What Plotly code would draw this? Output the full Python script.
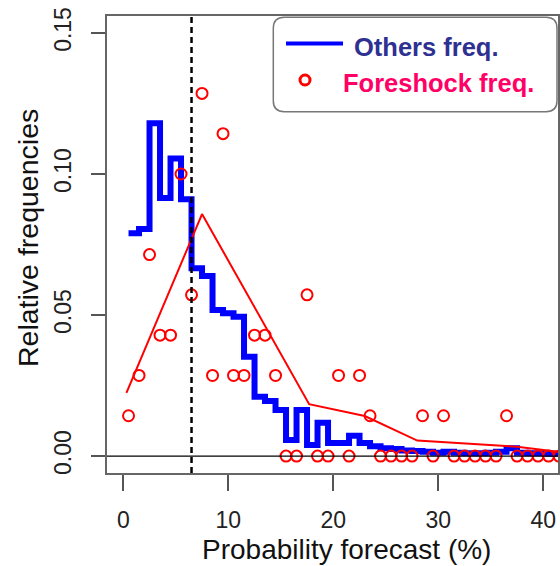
import plotly.graph_objects as go

# ---------------- data ----------------
bin_centers = [i + 0.5 for i in range(42)]
others_freq = [0.079, 0.0805, 0.118, 0.0915, 0.1055, 0.091, 0.0666, 0.0638, 0.0518, 0.0506,
               0.0494, 0.0352, 0.021, 0.0195, 0.0163, 0.0057, 0.0163, 0.0039, 0.0118, 0.0046,
               0.0046, 0.0072, 0.0046, 0.0035, 0.0028, 0.0025, 0.002, 0.0018, 0.0015, 0.0012,
               0.0015, 0.0012, 0.001, 0.001, 0.0012, 0.0015, 0.0028, 0.0012, 0.001, 0.001,
               0.0008, 0.0008]
foreshock_counts = [1, 2, 5, 3, 3, 7, 4, 9, 2, 8, 2, 2, 3, 3, 2, 0, 0, 4, 0, 0, 2, 0, 2, 1,
                    0, 0, 0, 0, 1, 0, 1, 0, 0, 0, 0, 0, 1, 0, 0, 0, 0, 0]
foreshock_total = 70
foreshock_freq = [c / foreshock_total for c in foreshock_counts]
model_x = [0.3, 7.5, 17.7, 23.0, 28.0, 37.5, 41.5]
model_y = [0.0224, 0.0858, 0.0184, 0.0142, 0.0055, 0.0033, 0.0015]
threshold = 6.5
x_ticks = [0, 10, 20, 30, 40]
y_ticks = [0.0, 0.05, 0.10, 0.15]
y_tick_labels = ["0.00", "0.05", "0.10", "0.15"]

# ---------------- layout geometry ----------------
W, H = 560, 566
L, R, T, B = 107, 558, 16, 473
FONT = "Liberation Sans, Arial, sans-serif"


def fx(px):
    return (px - L) / (R - L)


def fy(py):
    return (B - py) / (B - T)


fig = go.Figure()
fig.add_trace(go.Scatter(x=bin_centers, y=others_freq, mode="lines",
                         line=dict(color="#0000FF", width=6, shape="hv"),
                         name="Others freq.", showlegend=False))
fig.add_trace(go.Scatter(x=model_x, y=model_y, mode="lines",
                         line=dict(color="#FF0000", width=2), showlegend=False))
fig.add_trace(go.Scatter(x=bin_centers, y=foreshock_freq, mode="markers",
                         marker=dict(symbol="circle-open", size=11, color="#FF0000",
                                     line=dict(width=2, color="#FF0000")),
                         name="Foreshock freq.", showlegend=False))

shapes = [
    dict(type="line", xref="paper", yref="y", x0=0, x1=1, y0=0, y1=0,
         line=dict(color="black", width=1.3), layer="above"),
    dict(type="line", xref="x", yref="paper", x0=threshold, x1=threshold, y0=0, y1=1,
         line=dict(color="black", width=2.5, dash="6px,4px"), layer="above"),
]

# rounded legend box
bx0, bx1, by0, by1, rr = 273.3, 557, 17.3, 111.7, 11


def P(px, py):
    return f"{fx(px):.5f},{fy(py):.5f}"


path = (f"M {P(bx0 + rr, by0)} L {P(bx1 - rr, by0)} Q {P(bx1, by0)} {P(bx1, by0 + rr)} "
        f"L {P(bx1, by1 - rr)} Q {P(bx1, by1)} {P(bx1 - rr, by1)} "
        f"L {P(bx0 + rr, by1)} Q {P(bx0, by1)} {P(bx0, by1 - rr)} "
        f"L {P(bx0, by0 + rr)} Q {P(bx0, by0)} {P(bx0 + rr, by0)} Z")
shapes.append(dict(type="path", xref="paper", yref="paper", path=path,
                   fillcolor="white", line=dict(color="#777777", width=1.5), layer="above"))
shapes.append(dict(type="line", xref="paper", yref="paper", x0=fx(286), x1=fx(343),
                   y0=fy(43.5), y1=fy(43.5), line=dict(color="#0000FF", width=4), layer="above"))
shapes.append(dict(type="circle", xref="paper", yref="paper", x0=fx(300), x1=fx(310),
                   y0=fy(85), y1=fy(75), line=dict(color="#FF0000", width=3), layer="above"))

annotations = [
    dict(text="<b>Others freq.</b>", xref="paper", yref="paper", x=fx(352), y=fy(47),
         xanchor="left", yanchor="middle", showarrow=False,
         font=dict(family=FONT, size=25.5, color="#2E3192")),
    dict(text="<b>Foreshock freq.</b>", xref="paper", yref="paper", x=fx(341), y=fy(83),
         xanchor="left", yanchor="middle", showarrow=False,
         font=dict(family=FONT, size=25.5, color="#FF0066")),
    dict(text="Probability forecast (%)", xref="paper", yref="paper", x=fx(346), y=fy(549),
         xanchor="center", yanchor="middle", showarrow=False,
         font=dict(family=FONT, size=28, color="#111111")),
    dict(text="Relative frequencies", xref="paper", yref="paper", x=fx(28), y=fy(238),
         xanchor="center", yanchor="middle", showarrow=False, textangle=-90,
         font=dict(family=FONT, size=28.5, color="#111111")),
]

fig.update_layout(
    template="none",
    width=W, height=H,
    margin=dict(l=L, r=W - R, t=T, b=H - B, pad=0),
    paper_bgcolor="white", plot_bgcolor="white",
    showlegend=False,
    shapes=shapes, annotations=annotations,
    xaxis=dict(range=[-1.55, 41.4], tickvals=x_ticks, ticktext=[str(v) for v in x_ticks],
               showgrid=False, zeroline=False, showline=True, mirror=True,
               linecolor="#666666", linewidth=1.5, ticks="outside", ticklen=16,
               tickwidth=1.5, tickcolor="#555555", automargin=False,
               ticklabelstandoff=10,
               tickfont=dict(family=FONT, size=23, color="#222222")),
    yaxis=dict(range=[-0.006, 0.156], tickvals=y_ticks, ticktext=y_tick_labels,
               showgrid=False, zeroline=False, showline=True, mirror=True,
               linecolor="#666666", linewidth=1.5, ticks="outside", ticklen=14,
               tickwidth=1.5, tickcolor="#555555", automargin=False, tickangle=-90,
               ticklabelstandoff=11,
               tickfont=dict(family=FONT, size=23, color="#222222")),
)

fig.write_html("out.html")
